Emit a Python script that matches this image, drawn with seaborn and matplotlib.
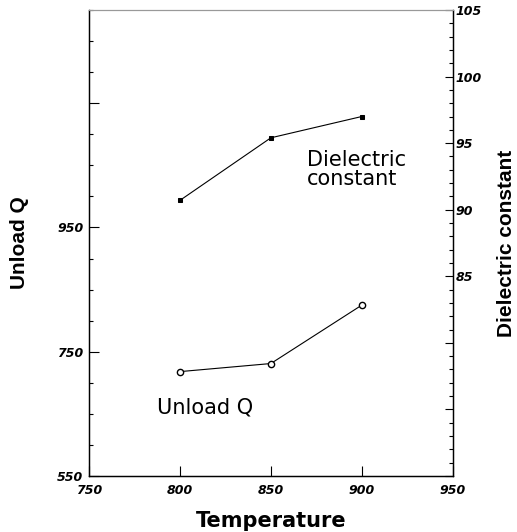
import pandas as pd
import seaborn as sns
import matplotlib.pyplot as plt
from matplotlib import font_manager
from matplotlib.ticker import FixedLocator, MultipleLocator

# values
temperature = [800, 850, 900]
unload_q = [718, 731, 825]
dielectric_constant = [90.7, 95.4, 97.0]

x_ticks = [750, 800, 850, 900, 950]
q_ticks = [550, 750, 950, 1150]
q_tick_labels = ["550", "750", "950", ""]
dc_ticks = [70, 75, 80, 85, 90, 95, 100, 105]
dc_tick_labels = ["", "", "", "85", "90", "95", "100", "105"]

df = pd.DataFrame({
    "temperature": temperature,
    "unload_q": unload_q,
    "dielectric_constant": dielectric_constant,
})

sns.set_style("ticks")
plt.rcParams["font.family"] = ["DejaVu Sans"]
plt.rcParams["text.color"] = "black"
plt.rcParams["axes.labelcolor"] = "black"
plt.rcParams["xtick.color"] = "black"
plt.rcParams["ytick.color"] = "black"

installed = {f.name for f in font_manager.fontManager.ttflist}
narrow = "Liberation Sans Narrow" if "Liberation Sans Narrow" in installed else "Liberation Sans"
label_size = 17 if narrow == "Liberation Sans Narrow" else 15

fig = plt.figure(figsize=(5.17, 5.32), dpi=100)
ax = fig.add_axes([89 / 517, 56 / 532, 363.7 / 517, 466 / 532])
ax2 = ax.twinx()

sns.lineplot(data=df, x="temperature", y="unload_q", ax=ax, color="black",
             linewidth=0.8, marker="o", markersize=4.5,
             markerfacecolor="white", markeredgecolor="black",
             markeredgewidth=1.0)
sns.lineplot(data=df, x="temperature", y="dielectric_constant", ax=ax2,
             color="black", linewidth=0.8, marker="s", markersize=3,
             markerfacecolor="black", markeredgecolor="black")

ax.set_xlim(750, 950)
ax.set_ylim(550, 1300)
ax2.set_ylim(70, 105)

tick_font = {"family": "DejaVu Sans", "weight": "bold", "style": "italic",
             "size": 9, "color": "black"}

ax.set_xticks(x_ticks)
ax.set_xticklabels([str(t) for t in x_ticks], fontdict=tick_font)
ax.yaxis.set_major_locator(FixedLocator(q_ticks))
ax.set_yticklabels(q_tick_labels, fontdict=tick_font)
ax.yaxis.set_minor_locator(MultipleLocator(50))

ax2.yaxis.set_major_locator(FixedLocator(dc_ticks))
ax2.set_yticklabels(dc_tick_labels, fontdict=tick_font)
ax2.yaxis.set_minor_locator(MultipleLocator(1))

ax.tick_params(axis="x", which="major", direction="in", length=7, width=0.8, pad=6)
ax.tick_params(axis="y", which="major", direction="in", length=7, width=0.8, pad=4)
ax.tick_params(axis="y", which="minor", direction="in", length=3, width=0.8)
ax2.tick_params(axis="y", which="major", direction="in", length=6, width=0.8, pad=2)
ax2.tick_params(axis="y", which="minor", direction="in", length=3, width=0.8)

for a in (ax, ax2):
    for side in ["left", "right", "bottom"]:
        a.spines[side].set_color("black")
        a.spines[side].set_linewidth(0.9)
    a.spines["top"].set_color("#999999")
    a.spines["top"].set_linewidth(0.8)

ax.set_xlabel("Temperature", fontsize=15, fontweight="bold", family="DejaVu Sans")
ax.xaxis.set_label_coords(0.5, -0.075)
ax.xaxis.label.set_va("top")

ax.set_ylabel("Unload Q", fontsize=label_size, fontweight="bold", family=narrow, va="center")
ax.yaxis.set_label_coords(-0.19, 0.5)
ax2.set_ylabel("Dielectric constant", fontsize=label_size, fontweight="bold", family=narrow,
               va="center", rotation=90)
ax2.yaxis.set_label_coords(1.149, 0.5)

ax.text(0.599, 0.657, "Dielectric\nconstant", transform=ax.transAxes,
        fontsize=15, ha="left", va="center", linespacing=0.95)
ax.text(0.187, 0.146, "Unload Q", transform=ax.transAxes,
        fontsize=15, ha="left", va="center")

plt.savefig("out.png", dpi=100)
plt.close()
